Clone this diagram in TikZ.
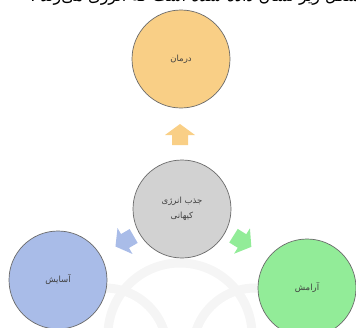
\documentclass[tikz,border=0pt]{standalone}
\usepackage{fontspec}
\newfontfamily\arabicfont[Script=Arabic]{DejaVu Sans}
\TeXXeTstate=1
\definecolor{orangeF}{HTML}{F9CF86}
\definecolor{grayF}{HTML}{D2D2D2}
\definecolor{blueF}{HTML}{A9BCE8}
\definecolor{greenF}{HTML}{92EC98}
\definecolor{rimC}{HTML}{6A6A6A}
\begin{document}
\begin{tikzpicture}[x=1pt,y=-1pt,
  bubble/.style={circle,draw=rimC,line width=0.7pt,inner sep=0pt,minimum size=98pt,
    font=\arabicfont\fontsize{8.5}{11}\selectfont,align=center,text=black!75},
  blockarrow/.style={line width=0.3pt}]
\useasboundingbox (0,0) rectangle (356,327);
\clip (0,0) rectangle (356,327);
% faint watermark arcs
\begin{scope}[draw=gray!8,line width=9pt]
  \draw (180,335) circle (72);
  \draw (105,350) circle (62);
  \draw (255,350) circle (62);
\end{scope}
% clipped line of text at top
\node[anchor=base,font=\arabicfont\fontsize{16}{18}\selectfont,inner sep=0pt] (topline) at (205,1.5)
  {\beginR در شکل زیر نشان داده شده است که انرژی می‌زند .\endR};
% circles
\node[bubble,fill=orangeF] (top) at (181,59) {\beginR درمان\endR};
\node[bubble,fill=grayF] (mid) at (182,209) {\beginR جذب انرژی\endR\\[4pt]\beginR کیهانی\endR};
\node[bubble,fill=blueF] (left) at (58,280) {\beginR آسایش\endR};
\node[bubble,fill=greenF] (right) at (307,288) {\beginR آرامش\endR};
% block arrows
\coordinate (aup) at (180,135);
\coordinate (aleft) at (125,241);
\coordinate (aright) at (242,241);
\foreach \p/\r/\c in {aup/0/orangeF,aleft/120/blueF,aright/-122/greenF}{
  \begin{scope}[shift={(\p)},rotate=\r]
    \fill[\c,blockarrow] (-8,10) -- (-8,0) -- (-15,0) -- (0,-11) -- (15,0) -- (8,0) -- (8,10) -- cycle;
  \end{scope}
}
\end{tikzpicture}
\end{document}
